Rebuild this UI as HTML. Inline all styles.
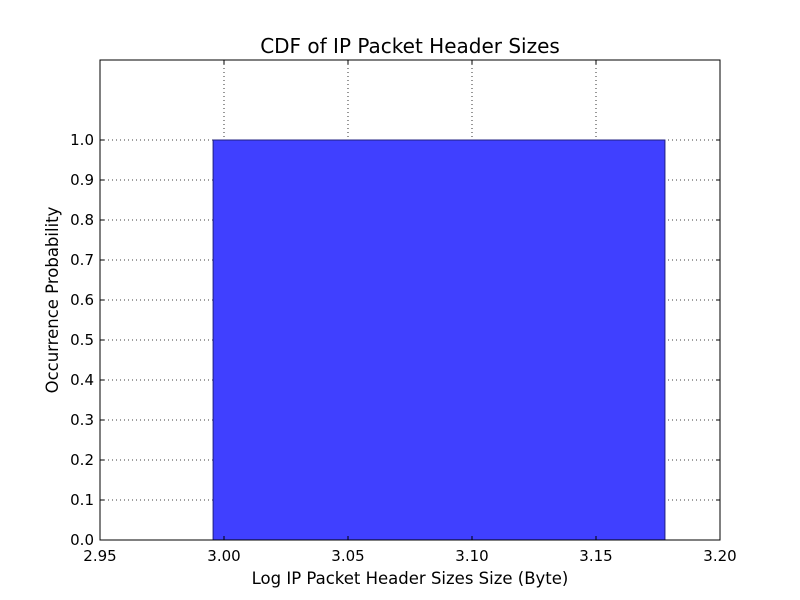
<!DOCTYPE html>
<html><head><meta charset="utf-8"><style>body{margin:0;background:#fff}svg{display:block}text{font-family:"DejaVu Sans","Liberation Sans",sans-serif}</style></head>
<body>
<svg id="chart" width="800" height="600" xmlns="http://www.w3.org/2000/svg">
<rect width="800" height="600" fill="#fff"/>
<g id="grid"></g>
<g id="bars"></g>
<rect x="100" y="60" width="620" height="480" fill="none" stroke="#000" stroke-width="1"/>
<g id="ticks"></g>
<text x="410" y="53" font-size="20" text-anchor="middle">CDF of IP Packet Header Sizes</text>
<text x="410" y="584" font-size="16.5" text-anchor="middle">Log IP Packet Header Sizes Size (Byte)</text>
<text transform="translate(58,300) rotate(-90)" font-size="16.5" text-anchor="middle">Occurrence Probability</text>
</svg>
<script>
const xTicks = ["2.95","3.00","3.05","3.10","3.15","3.20"];
const yTicks = ["0.0","0.1","0.2","0.3","0.4","0.5","0.6","0.7","0.8","0.9","1.0"];
const barStarts = [2.9956];
const barEnds = [3.1778];
const barValues = [1.0];
const X0=100,X1=720,Y0=540,Y1=60,xmin=2.95,xmax=3.20,ymin=0,ymax=1.2;
const sx=v=>X0+(v-xmin)/(xmax-xmin)*(X1-X0);
const sy=v=>Y0-(v-ymin)/(ymax-ymin)*(Y0-Y1);
const NS="http://www.w3.org/2000/svg";
const mk=(t,a,p)=>{const e=document.createElementNS(NS,t);for(const k in a)e.setAttribute(k,a[k]);p.appendChild(e);return e;};
const grid=document.getElementById('grid'),ticks=document.getElementById('ticks'),bars=document.getElementById('bars');
xTicks.forEach(t=>{const x=sx(+t);
 const g=mk('line',{x1:x,x2:x,y1:Y1,y2:Y0,stroke:'#000','stroke-dasharray':'1,3','stroke-width':0.8},grid);
 
 
 mk('line',{x1:x,x2:x,y1:Y0,y2:Y0-4,stroke:'#000'},ticks);
 mk('line',{x1:x,x2:x,y1:Y1,y2:Y1+4,stroke:'#000'},ticks);
 const l=mk('text',{x:x,y:Y0+21,'font-size':15,'text-anchor':'middle'},ticks);l.textContent=t;
 
 
});
yTicks.forEach(t=>{const y=sy(+t);
 const g=mk('line',{x1:X0,x2:X1,y1:y,y2:y,stroke:'#000','stroke-dasharray':'1,3','stroke-width':0.8},grid);
 
 
 mk('line',{x1:X0,x2:X0+4,y1:y,y2:y,stroke:'#000'},ticks);
 mk('line',{x1:X1,x2:X1-4,y1:y,y2:y,stroke:'#000'},ticks);
 const l=mk('text',{x:X0-6,y:y+5,'font-size':15,'text-anchor':'end'},ticks);l.textContent=t;
 
 
});
barValues.forEach((v,i)=>{const x=sx(barStarts[i]),w=sx(barEnds[i])-x;
 const r=mk('rect',{x:x,y:sy(v),width:w,height:sy(0)-sy(v),fill:'#4040ff',stroke:'#202080','stroke-width':1},bars);
 
 
});
</script>
</body></html>
